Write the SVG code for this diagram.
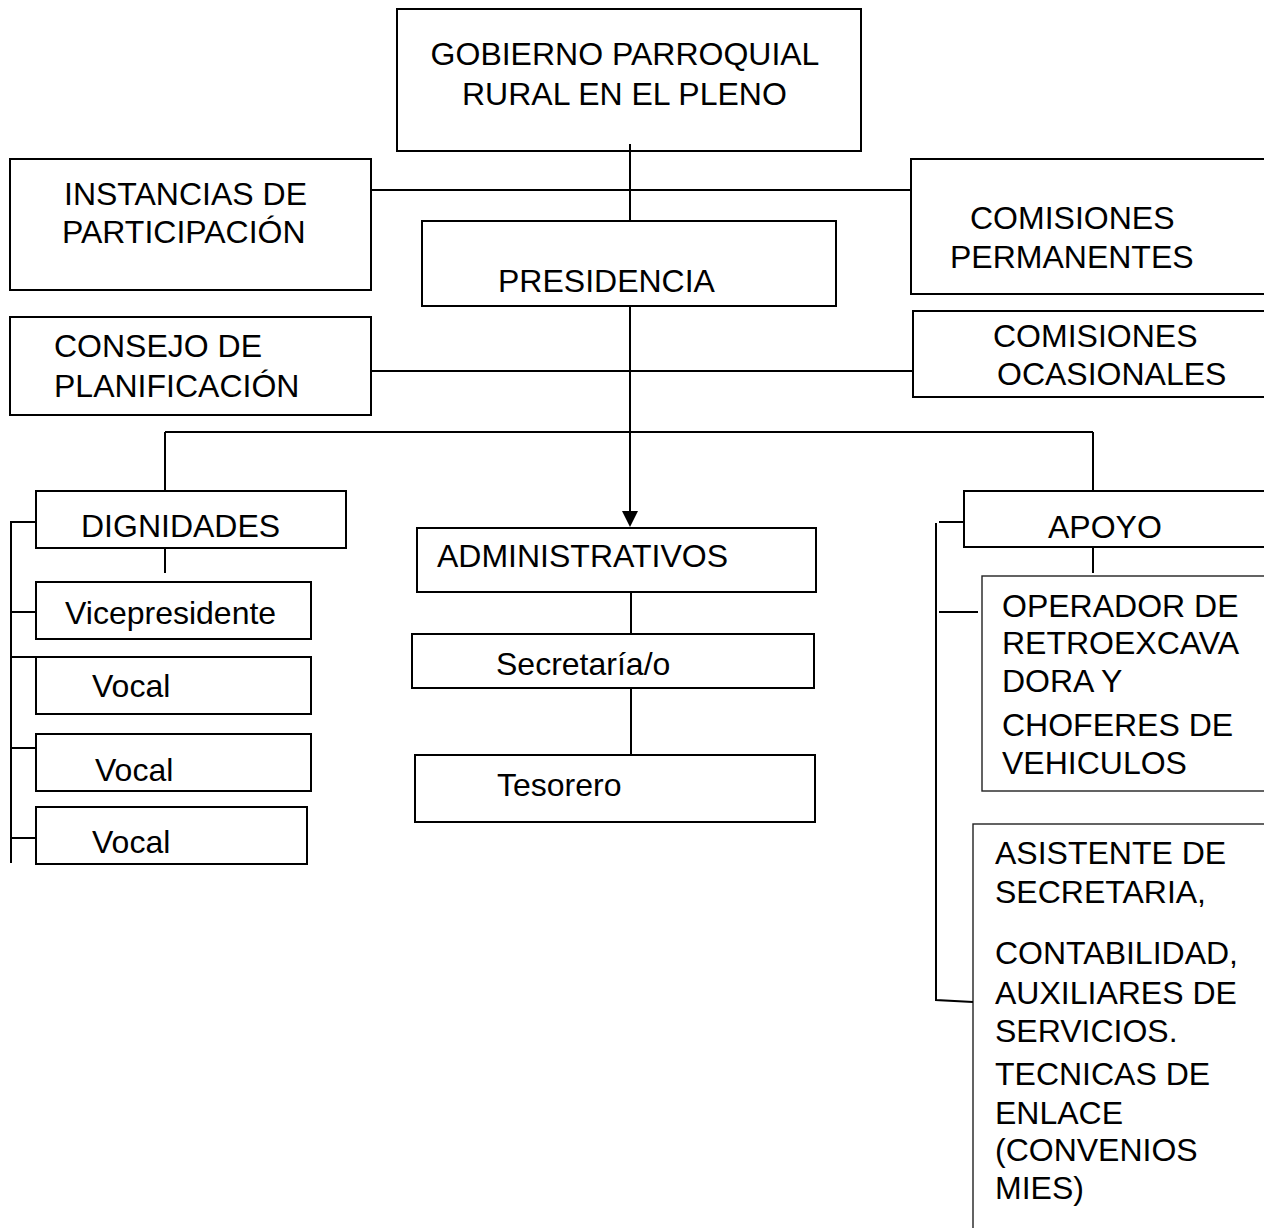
<svg xmlns="http://www.w3.org/2000/svg" width="1264" height="1228" viewBox="0 0 1264 1228">
<style>
.box{fill:#fff;stroke:#000;stroke-width:2}
.thin{fill:#fff;stroke:#222;stroke-width:1.4}
.ln{fill:none;stroke:#000;stroke-width:2}
text{font-family:"Liberation Sans",Arial,sans-serif;font-size:32px;fill:#000}
</style>
<rect width="1264" height="1228" fill="#fff"/>
<g id="gobierno"><rect class="box" x="397" y="9" width="464" height="142"/><text x="625" y="65" text-anchor="middle">GOBIERNO PARROQUIAL</text><text x="462" y="105">RURAL EN EL PLENO</text></g>
<g id="instancias"><rect class="box" x="10" y="159" width="361" height="131"/><text x="64" y="205">INSTANCIAS DE</text><text x="62" y="243">PARTICIPACIÓN</text></g>
<g id="presidencia"><rect class="box" x="422" y="221" width="414" height="85"/><text x="498" y="292">PRESIDENCIA</text></g>
<g id="consejo"><rect class="box" x="10" y="317" width="361" height="98"/><text x="54" y="357">CONSEJO DE</text><text x="54" y="397">PLANIFICACIÓN</text></g>
<g id="comisiones-permanentes"><rect class="box" x="911" y="159" width="362" height="135"/><text x="970" y="229">COMISIONES</text><text x="950" y="268">PERMANENTES</text></g>
<g id="comisiones-ocasionales"><rect class="box" x="913" y="311" width="362" height="86"/><text x="993" y="347">COMISIONES</text><text x="997" y="385">OCASIONALES</text></g>
<g id="dignidades"><rect class="box" x="36" y="491" width="310" height="57"/><text x="81" y="537">DIGNIDADES</text></g>
<g id="vicepresidente"><rect class="box" x="36" y="582" width="275" height="57"/><text x="65" y="624">Vicepresidente</text></g>
<g id="vocal1"><rect class="box" x="36" y="657" width="275" height="57"/><text x="92" y="697">Vocal</text></g>
<g id="vocal2"><rect class="box" x="36" y="734" width="275" height="57"/><text x="95" y="781">Vocal</text></g>
<g id="vocal3"><rect class="box" x="36" y="807" width="271" height="57"/><text x="92" y="853">Vocal</text></g>
<g id="administrativos"><rect class="box" x="417" y="528" width="399" height="64"/><text x="437" y="567">ADMINISTRATIVOS</text></g>
<g id="secretaria"><rect class="box" x="412" y="634" width="402" height="54"/><text x="496" y="675">Secretaría/o</text></g>
<g id="tesorero"><rect class="box" x="415" y="755" width="400" height="67"/><text x="497" y="796">Tesorero</text></g>
<g id="apoyo"><rect class="box" x="964" y="491" width="310" height="56"/><text x="1048" y="538">APOYO</text></g>
<g id="operador"><rect class="thin" x="982" y="576" width="292" height="215"/><text x="1002" y="617">OPERADOR DE</text><text x="1002" y="654">RETROEXCAVA</text><text x="1002" y="692">DORA Y</text><text x="1002" y="736">CHOFERES DE</text><text x="1002" y="774">VEHICULOS</text></g>
<g id="asistente"><rect class="thin" x="973" y="824" width="300" height="420"/><text x="995" y="864">ASISTENTE DE</text><text x="995" y="903">SECRETARIA,</text><text x="995" y="964">CONTABILIDAD,</text><text x="995" y="1004">AUXILIARES DE</text><text x="995" y="1042">SERVICIOS.</text><text x="995" y="1085">TECNICAS DE</text><text x="995" y="1124">ENLACE</text><text x="995" y="1161">(CONVENIOS</text><text x="995" y="1199">MIES)</text></g>
<g id="connectors">
<path class="ln" d="M630 144V221"/>
<path class="ln" d="M371 190H911"/>
<path class="ln" d="M630 306V512"/>
<polygon points="622,511 638,511 630,527" fill="#000"/>
<path class="ln" d="M371 371H913"/>
<path class="ln" d="M165 432H1093"/>
<path class="ln" d="M165 432V491"/>
<path class="ln" d="M1093 432V491"/>
<path class="ln" d="M165 548V573"/>
<path class="ln" d="M1093 547V573"/>
<path class="ln" d="M36 522H11V863"/>
<path class="ln" d="M11 612H36M11 657H36M11 748H36M11 838H36"/>
<path class="ln" d="M939 522H964"/>
<path class="ln" d="M936 523V1000L973 1002"/>
<path class="ln" d="M939 612H978"/>
<path class="ln" d="M631 592V634"/>
<path class="ln" d="M631 688V755"/>
</g>
</svg>
